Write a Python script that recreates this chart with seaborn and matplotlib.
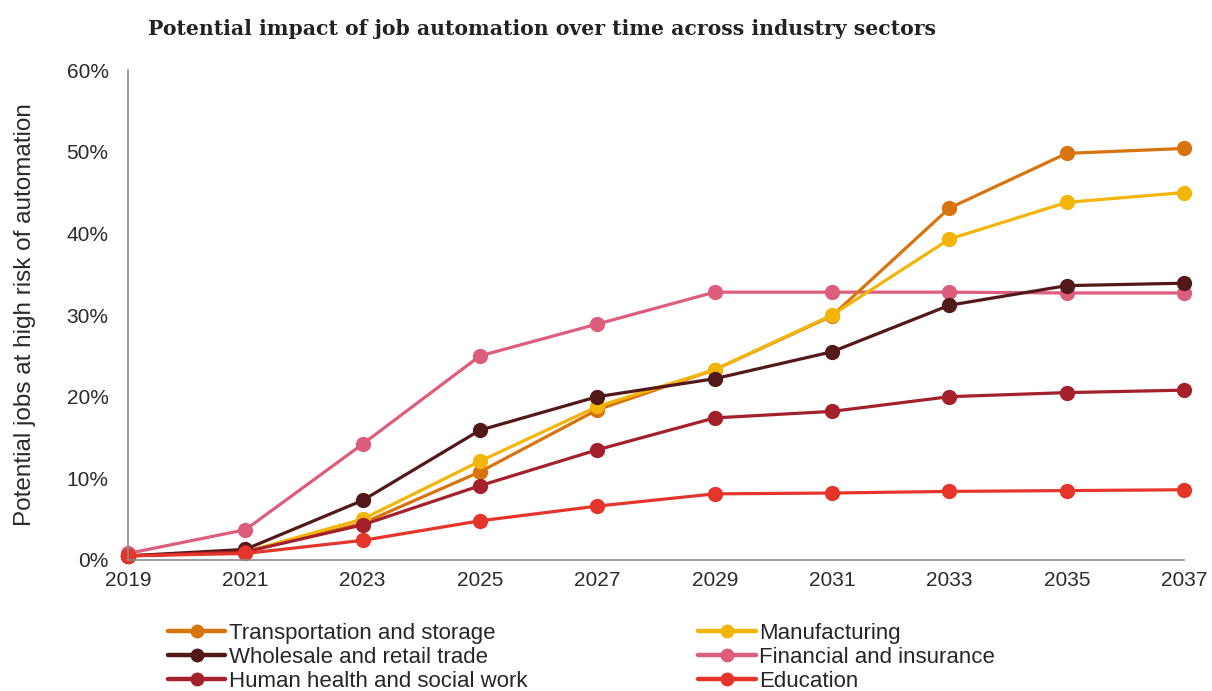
import matplotlib
matplotlib.use("Agg")
import matplotlib.pyplot as plt
import seaborn as sns
import pandas as pd
from matplotlib.ticker import PercentFormatter

years = [2019, 2021, 2023, 2025, 2027, 2029, 2031, 2033, 2035, 2037]

transportation = [0.5, 1.0, 4.5, 10.8, 18.4, 23.3, 29.9, 43.1, 49.8, 50.4]
manufacturing = [0.5, 1.0, 5.0, 12.1, 18.8, 23.3, 30.0, 39.3, 43.8, 45.0]
wholesale = [0.5, 1.3, 7.3, 15.9, 20.0, 22.2, 25.5, 31.2, 33.6, 33.9]
financial = [0.8, 3.7, 14.2, 25.0, 28.9, 32.8, 32.8, 32.8, 32.7, 32.7]
human_health = [0.5, 1.0, 4.3, 9.1, 13.5, 17.4, 18.2, 20.0, 20.5, 20.8]
education = [0.5, 0.8, 2.4, 4.8, 6.6, 8.1, 8.2, 8.4, 8.5, 8.6]

sectors = {
    "Transportation and storage": transportation,
    "Manufacturing": manufacturing,
    "Wholesale and retail trade": wholesale,
    "Financial and insurance": financial,
    "Human health and social work": human_health,
    "Education": education,
}
colors = {
    "Transportation and storage": "#D8730E",
    "Manufacturing": "#F4B50A",
    "Wholesale and retail trade": "#531818",
    "Financial and insurance": "#DC5D7C",
    "Human health and social work": "#A4202A",
    "Education": "#E5352B",
}
draw_order = [
    "Financial and insurance",
    "Transportation and storage",
    "Manufacturing",
    "Wholesale and retail trade",
    "Human health and social work",
    "Education",
]
legend_order = [
    "Transportation and storage",
    "Wholesale and retail trade",
    "Human health and social work",
    "Manufacturing",
    "Financial and insurance",
    "Education",
]

df = pd.DataFrame(
    [(name, y, v) for name, vals in sectors.items() for y, v in zip(years, vals)],
    columns=["sector", "year", "share"],
)

sns.set_style("white")
plt.rcParams["font.family"] = ["Liberation Sans", "DejaVu Sans"]

fig = plt.figure(figsize=(12.12, 6.91), dpi=100)
ax = fig.add_axes([0.1056, 0.1896, 0.8714, 0.709])

sns.lineplot(
    data=df, x="year", y="share", hue="sector", hue_order=draw_order,
    palette=colors, marker="o", markersize=11, markeredgewidth=0,
    linewidth=2.3, ax=ax, legend=False, clip_on=False,
)

ax.set_xlim(2019, 2037)
ax.set_ylim(0, 60)
ax.set_xticks(years)
ax.set_yticks(range(0, 61, 10))
ax.yaxis.set_major_formatter(PercentFormatter(decimals=0))
ax.tick_params(axis="both", labelsize=15, colors="#8a8a8a", length=6,
               width=1, direction="out", labelcolor="#2a2a2a")
ax.tick_params(axis="x", pad=2)
ax.tick_params(axis="y", pad=8)
for s in ["top", "right"]:
    ax.spines[s].set_visible(False)
for s in ["left", "bottom"]:
    ax.spines[s].set_color("#8a8a8a")
    ax.spines[s].set_linewidth(1.2)
ax.set_xlabel("")
ax.set_ylabel("Potential jobs at high risk of automation", fontsize=17.5,
              color="#2a2a2a", labelpad=22)

fig.text(0.122, 0.958, "Potential impact of job automation over time across industry sectors",
         fontsize=14.7, fontweight="bold", family=["DejaVu Serif"],
         color="#222222", va="center", ha="left")

handles = [
    plt.Line2D([], [], color=colors[n], marker="o", markersize=10, linewidth=3.2,
               markeredgewidth=0)
    for n in legend_order
]
fig.legend(handles, legend_order, ncol=2, loc="upper left",
           bbox_to_anchor=(0.131, 0.111), frameon=False, fontsize=16,
           handlelength=2.6, handletextpad=0.15, labelspacing=0.12,
           columnspacing=7.7, borderaxespad=0)

fig.savefig("out.png", dpi=100)
